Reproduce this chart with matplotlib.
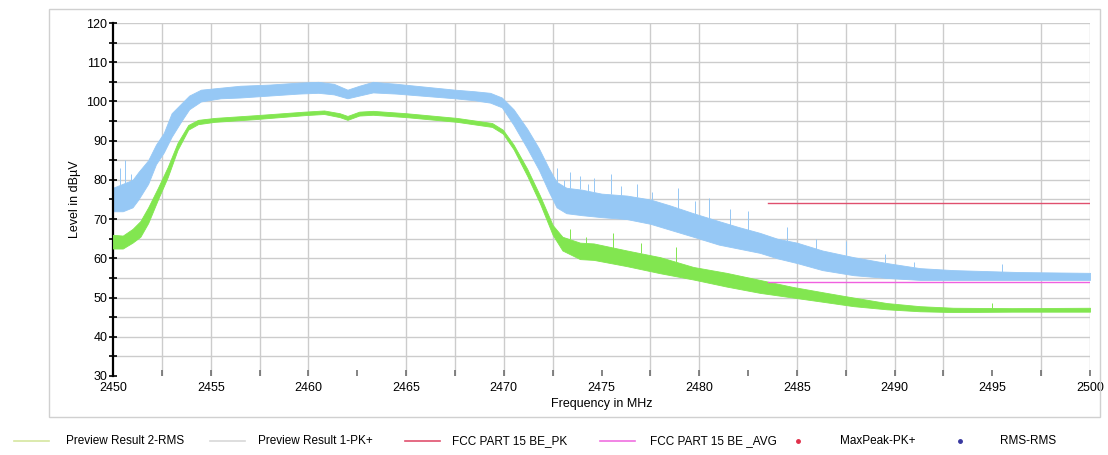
import matplotlib
matplotlib.use("Agg")
import matplotlib.pyplot as plt
from matplotlib.lines import Line2D
from matplotlib.patches import Rectangle
import numpy as np

plt.rcParams['font.family'] = ['Liberation Sans Narrow', 'Liberation Sans', 'DejaVu Sans']

# Preview Result 1-PK+ (blue), band: freq, lower, upper
pk_freq = [2450.0, 2450.5, 2451.0, 2451.3, 2451.8, 2452.2, 2452.6, 2453.0, 2453.5, 2453.9,
           2454.5, 2455.5, 2456.5, 2458.0, 2459.5, 2460.5, 2461.3, 2462.0, 2462.6, 2463.3,
           2464.5, 2465.5, 2466.5, 2467.5, 2468.5, 2469.3, 2469.9, 2470.5, 2471.2, 2471.8,
           2472.3, 2472.7, 2473.2, 2474.0, 2475.0, 2476.3, 2477.5, 2478.5, 2479.7, 2481.0,
           2482.0, 2483.1, 2484.0, 2485.0, 2486.3, 2487.9, 2489.6, 2491.3, 2493.0, 2496.4,
           2500.0]
pk_lo = [72, 72, 73, 75, 79, 84, 87, 91, 95, 98,
         100, 100.8, 101, 101.5, 102, 102.2, 101.8, 100.8, 101.5, 102.3,
         102, 101.6, 101.2, 100.8, 100.3, 99.7, 98.5, 94, 88, 82.5,
         77, 73, 71.5, 71, 70.5, 70, 68.8, 67.3, 65.5, 63.5,
         62.5, 61.4, 60, 58.8, 57, 55.7, 55, 54.5, 54.5, 54.5,
         54.5]
pk_hi = [78, 79, 80, 82, 85, 89, 92, 97, 99.5, 101.5,
         103, 103.5, 104, 104.3, 104.8, 105, 104.5, 103, 104, 105,
         104.5, 104, 103.5, 103, 102.6, 102.2, 101, 98, 93, 88,
         83, 79.5, 78, 77.5, 76.5, 76, 75, 73.5, 71.5, 69.5,
         68, 66.5, 65, 64, 62, 60.3, 58.8, 57.5, 57, 56.5,
         56.3]
pk_spike_f = [2450.35, 2450.6, 2450.9, 2472.7, 2473.1, 2473.4, 2473.9, 2474.3, 2474.6,
              2475.5, 2476.0, 2476.8, 2477.6, 2478.9, 2479.8, 2480.5, 2481.6, 2482.5,
              2484.5, 2486.0, 2487.5, 2489.5, 2491.0, 2495.5]
pk_spike_top = [83, 85, 81.5, 83, 80, 82, 81, 79, 80.5,
                81.4, 78.5, 79, 77, 78, 74.5, 75.5, 72.5, 72,
                68, 65, 64.5, 61, 59, 58.5]

# Preview Result 2-RMS (green)
rms_freq = [2450.0, 2450.5, 2451.0, 2451.4, 2451.8, 2452.3, 2452.8, 2453.3, 2453.85, 2454.35,
            2455.2, 2457.3, 2459.8, 2460.8, 2461.6, 2462.0, 2462.6, 2463.3, 2465.0, 2467.6,
            2469.4, 2469.95, 2470.5, 2471.2, 2471.85, 2472.5, 2473.0, 2473.9, 2474.6, 2476.3,
            2478.0, 2479.7, 2481.4, 2483.1, 2484.8, 2486.5, 2487.9, 2489.6, 2491.3, 2493.0,
            2496.0, 2500.0]
rms_lo = [62.5, 62.5, 64, 65.5, 69, 75, 80.7, 87.6, 92.8, 94.2,
          94.8, 95.5, 96.5, 96.8, 96, 95.3, 96.4, 96.6, 96, 94.8,
          93.5, 91.8, 87.8, 81, 74, 66, 62, 59.8, 59.6, 58,
          56.2, 54.6, 52.8, 51.2, 50, 48.8, 47.8, 47, 46.5, 46.3,
          46.4, 46.4]
rms_hi = [66, 65.8, 67.5, 69.5, 73, 78, 83.3, 89.4, 94, 95.3,
          95.8, 96.5, 97.4, 97.7, 97, 96.3, 97.4, 97.6, 97, 95.8,
          94.5, 92.8, 89, 82.8, 76, 68.5, 65.5, 64, 63.8, 62,
          60.3, 57.8, 56.3, 54.5, 52.7, 51.2, 50, 48.6, 47.8, 47.4,
          47.3, 47.4]
rms_spike_f = [2473.4, 2474.2, 2475.6, 2477.0, 2478.8, 2495.0]
rms_spike_top = [67.5, 65.5, 66.4, 64, 63, 48.5]

# limit lines
limit_f = [2483.5, 2500.0]
fcc_pk = [74, 74]
fcc_avg = [54, 54]

x_grid = [2452.5, 2455, 2457.5, 2460, 2465, 2467.5, 2470, 2472.5, 2477.5, 2480,
          2485, 2487.5, 2490, 2492.5, 2497.5, 2500]

blue = '#96C8F5'
green = '#82E650'

fig = plt.figure(figsize=(11.08, 4.55), dpi=100)
ax = fig.add_axes([113/1108, 1 - 376/455, (1090 - 113)/1108, (376 - 23)/455])

# outer frame
fig.add_artist(Rectangle((49/1108, 1 - 417/455), (1100 - 49)/1108, (417 - 9)/455,
                         transform=fig.transFigure, fill=False, ec='#D0D0D0', lw=1))

for y in range(35, 121, 5):
    ax.axhline(y, color='#CCCCCC', lw=1, zorder=0)
for xg in x_grid:
    ax.axvline(xg, color='#CCCCCC', lw=1, zorder=0)

ax.fill_between(pk_freq, pk_lo, pk_hi, color=blue, lw=0.6, ec=blue, zorder=2)
ax.vlines(pk_spike_f, np.interp(pk_spike_f, pk_freq, pk_hi), pk_spike_top,
          color=blue, lw=0.7, zorder=2)
ax.fill_between(rms_freq, rms_lo, rms_hi, color=green, lw=0.6, ec=green, zorder=3)
ax.vlines(rms_spike_f, np.interp(rms_spike_f, rms_freq, rms_hi), rms_spike_top,
          color=green, lw=0.7, zorder=3)

ax.plot(limit_f, fcc_pk, color='#E0506E', lw=1, zorder=4)
ax.plot(limit_f, fcc_avg, color='#F060E0', lw=1, zorder=4)

ax.set_xlim(2450, 2500)
ax.set_ylim(30, 120)
ax.set_xticks(range(2450, 2501, 5))
ax.set_xticks(np.arange(2452.5, 2500, 5), minor=True)
ax.set_yticks(range(30, 121, 10))
ax.set_yticks(range(35, 120, 10), minor=True)

for s in ['top', 'right', 'bottom']:
    ax.spines[s].set_visible(False)
ax.spines['left'].set_linewidth(1.6)
ax.spines['left'].set_color('black')

ax.tick_params(axis='y', which='both', direction='inout', length=6, width=1.2,
               labelsize=9, pad=1)
ax.tick_params(axis='x', which='both', direction='in', length=4, width=1.2,
               color='#707070', labelsize=9, pad=4)

ax.set_xlabel('Frequency in MHz', fontsize=9, labelpad=3)
ax.set_ylabel('Level in dBµV', fontsize=9, labelpad=4)

# legend row under the frame
legend_items = [
    ('line', '#D6E6A0', 'Preview Result 2-RMS', 14, 66),
    ('line', '#D8D8D8', 'Preview Result 1-PK+', 210, 258),
    ('line', '#E0506E', 'FCC PART 15 BE_PK', 405, 452),
    ('line', '#F070E0', 'FCC PART 15 BE _AVG', 600, 650),
    ('dot', '#E0304A', 'MaxPeak-PK+', 798, 840),
    ('dot', '#3838A0', 'RMS-RMS', 960, 1000),
]
ly = 1 - 441/455
for kind, col, label, hx, tx in legend_items:
    if kind == 'line':
        fig.add_artist(Line2D([hx/1108, (hx + 35)/1108], [ly, ly], color=col, lw=1.2,
                              transform=fig.transFigure))
    else:
        fig.add_artist(Line2D([hx/1108], [ly], marker='o', ms=2.5, color=col, lw=0,
                              transform=fig.transFigure))
    fig.text(tx/1108, ly, label, fontsize=8.5, va='center', ha='left')

fig.savefig('out.png', dpi=100)
